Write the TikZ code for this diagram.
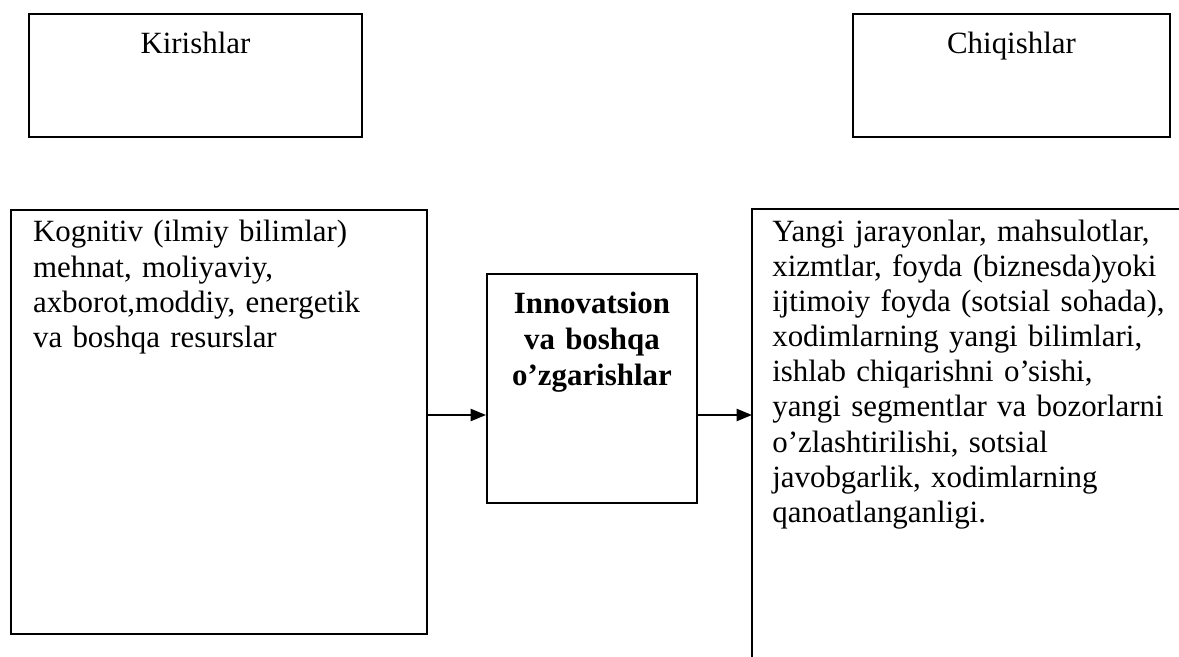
\documentclass[tikz,border=0pt]{standalone}
\usepackage{fontspec}
\setmainfont{Liberation Serif}
\usetikzlibrary{arrows.meta}
\tikzset{
  headbox/.style={draw,line width=0.9pt,inner sep=0pt,align=center,text height=18.1pt,text depth=37.6pt},
  inputbox/.style={draw,line width=0.9pt,inner xsep=10pt,inner ysep=0pt,align=left,text width=168.4pt,text height=14.5pt,text depth=177.6pt},
  processbox/.style={draw,line width=0.9pt,inner sep=0pt,align=center,text width=95.1pt,text height=18.1pt,text depth=85.6pt,font=\fontsize{14pt}{16.3pt}\selectfont\bfseries},
  outputbox/.style={inner xsep=9pt,inner ysep=0pt,align=left,text width=185pt,text height=14.5pt,text depth=190pt},
  arrow/.style={-{Triangle[length=7pt,width=5.5pt]},line width=0.9pt}
}
\begin{document}
\begin{tikzpicture}[x=0.453pt,y=-0.453pt,font=\fontsize{14pt}{15.9pt}\selectfont]
\useasboundingbox (0,0) rectangle (1179,657);
\node[headbox,text width=150.8pt,anchor=north west] (inhead) at (28,13) {Kirishlar};
\node[headbox,text width=143.6pt,anchor=north west] (outhead) at (852,13) {Chiqishlar};
\node[inputbox,anchor=north west] (inputs) at (10,209) {Kognitiv (ilmiy bilimlar)\\mehnat, moliyaviy,\\axborot,moddiy, energetik\\va boshqa resurslar};
\node[processbox,anchor=north west] (process) at (486,273) {Innovatsion\\va boshqa\\o’zgarishlar};
\node[outputbox,anchor=north west] (outputs) at (752,209) {Yangi jarayonlar, mahsulotlar,\\xizmtlar, foyda (biznesda)yoki\\ijtimoiy foyda (sotsial sohada),\\xodimlarning yangi bilimlari,\\ishlab chiqarishni o’sishi,\\yangi segmentlar va bozorlarni\\o’zlashtirilishi, sotsial\\javobgarlik, xodimlarning\\qanoatlanganligi.};
\draw[line width=0.9pt] (outputs.south west) -- (outputs.north west) -- (outputs.north east);
\coordinate (flow) at (0,415);
\draw[arrow] (inputs.east |- flow) -- (process.west |- flow);
\draw[arrow] (process.east |- flow) -- (outputs.west |- flow);
\end{tikzpicture}
\end{document}
